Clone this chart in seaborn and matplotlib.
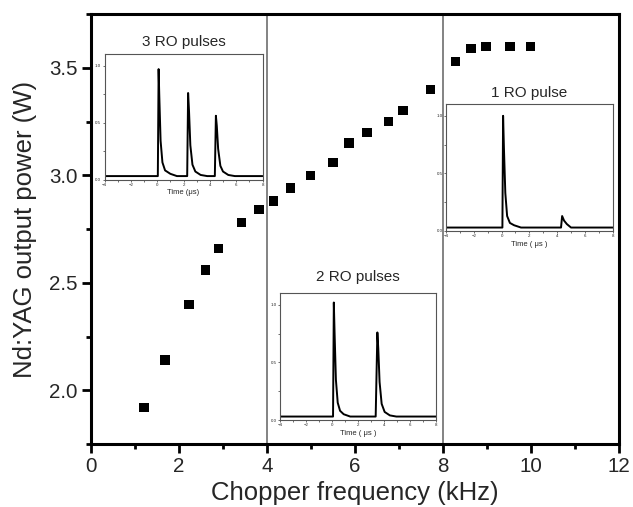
import matplotlib
matplotlib.use("Agg")
import matplotlib.pyplot as plt
from matplotlib.ticker import MultipleLocator
import seaborn as sns
import pandas as pd

# ---- main data ----
freq_khz = [1.21, 1.69, 2.23, 2.61, 2.90, 3.42, 3.82, 4.15, 4.53, 4.99, 5.50,
            5.86, 6.27, 6.76, 7.09, 7.71, 8.28, 8.63, 8.97, 9.52, 9.98]
power_w = [1.92, 2.14, 2.40, 2.56, 2.66, 2.78, 2.84, 2.88, 2.94, 3.00, 3.06,
           3.15, 3.20, 3.25, 3.30, 3.40, 3.53, 3.59, 3.60, 3.60, 3.60]
regime_bounds = [4.0, 8.0]

# ---- inset pulse traces (time in us, normalised amplitude) ----
p3_t = [-4, 0.05, 0.11, 0.16, 0.26, 0.40, 0.60, 1.00, 1.50, 2.28, 2.35, 2.42,
        2.52, 2.68, 2.90, 3.30, 3.80, 4.38, 4.46, 4.53, 4.63, 4.80, 5.00, 5.40, 5.90, 8]
p3_v = [0.03, 0.03, 0.97, 0.74, 0.34, 0.15, 0.08, 0.05, 0.03, 0.03, 0.76, 0.60,
        0.30, 0.13, 0.07, 0.04, 0.03, 0.03, 0.56, 0.47, 0.27, 0.12, 0.07, 0.04, 0.03, 0.03]

p2_t = [-4, 0.08, 0.14, 0.20, 0.30, 0.44, 0.62, 0.90, 1.40, 3.36, 3.49, 3.56,
        3.66, 3.82, 4.05, 4.45, 4.95, 8]
p2_v = [0.03, 0.03, 1.02, 0.75, 0.35, 0.15, 0.08, 0.05, 0.03, 0.03, 0.76, 0.62,
        0.33, 0.14, 0.07, 0.04, 0.03, 0.03]

p1_t = [-4, 0.06, 0.11, 0.17, 0.27, 0.40, 0.60, 0.90, 1.40, 4.28, 4.36, 4.50,
        4.70, 5.00, 8]
p1_v = [0.03, 0.03, 1.00, 0.72, 0.33, 0.13, 0.07, 0.05, 0.03, 0.03, 0.13, 0.09,
        0.06, 0.03, 0.03]

insets = [
    dict(t=p3_t, v=p3_v, title="3 RO pulses", xlabel="Time (μs)",
         rect=[104.5, 54.3, 262.5, 179.5], pad=6),
    dict(t=p2_t, v=p2_v, title="2 RO pulses", xlabel="Time ( μs )",
         rect=[280.0, 293.3, 436.0, 420.0], pad=9),
    dict(t=p1_t, v=p1_v, title="1 RO pulse", xlabel="Time ( μs )",
         rect=[446.0, 104.3, 612.7, 231.0], pad=5),
]

sns.set_theme(style="white")
plt.rcParams["font.family"] = ["Liberation Sans", "DejaVu Sans"]

W, H = 633, 507
fig = plt.figure(figsize=(W / 100, H / 100), dpi=100)


def frac(l, t, r, b):
    return [l / W, (H - b) / H, (r - l) / W, (b - t) / H]


ax = fig.add_axes(frac(90.7, 14.0, 619.3, 444.0))
df = pd.DataFrame({"freq": freq_khz, "power": power_w})
sns.scatterplot(data=df, x="freq", y="power", ax=ax, marker="s", s=46,
                color="black", edgecolor="none", zorder=3)
for xb in regime_bounds:
    ax.axvline(xb, color="#6e6e6e", lw=1.2, zorder=1)

ax.set_xlim(0, 12)
ax.set_ylim(1.75, 3.75)
ax.xaxis.set_major_locator(MultipleLocator(2))
ax.xaxis.set_minor_locator(MultipleLocator(1))
ax.yaxis.set_major_locator(MultipleLocator(0.5))
ax.yaxis.set_minor_locator(MultipleLocator(0.25))
ax.tick_params(which="major", direction="out", length=6.5, width=2.0,
               labelsize=14.8, color="black", pad=3, left=True, bottom=True)
ax.tick_params(which="minor", direction="out", length=3.5, width=2.0,
               color="black", left=True, bottom=True)
for sp in ax.spines.values():
    sp.set_linewidth(2.2)
    sp.set_color("black")
ax.set_xlabel("Chopper frequency (kHz)", fontsize=18.5, labelpad=3.5)
ax.set_ylabel("Nd:YAG output power (W)", fontsize=18.5, labelpad=9)

for ins in insets:
    iax = fig.add_axes(frac(*ins["rect"]))
    sns.lineplot(x=ins["t"], y=ins["v"], ax=iax, color="black", lw=1.4,
                 estimator=None, sort=False)
    iax.set_xlim(-4, 8)
    iax.set_ylim(0, 1.1)
    iax.xaxis.set_major_locator(MultipleLocator(2))
    iax.xaxis.set_minor_locator(MultipleLocator(1))
    iax.yaxis.set_major_locator(MultipleLocator(0.5))
    iax.yaxis.set_minor_locator(MultipleLocator(0.25))
    iax.tick_params(which="both", direction="out", length=1.5, width=0.5,
                    labelsize=3.2, pad=1, color="#333333", left=True, bottom=True)
    iax.set_yticks([0.0, 0.5, 1.0])
    iax.set_yticklabels(["0.0", "0.5", "1.0"])
    for sp in iax.spines.values():
        sp.set_linewidth(0.8)
        sp.set_color("#555555")
    iax.set_xlabel(ins["xlabel"], fontsize=5.5, labelpad=1.5)
    iax.set_ylabel("")
    iax.set_title(ins["title"], fontsize=11, pad=ins["pad"])

fig.savefig("out.png", dpi=100)
